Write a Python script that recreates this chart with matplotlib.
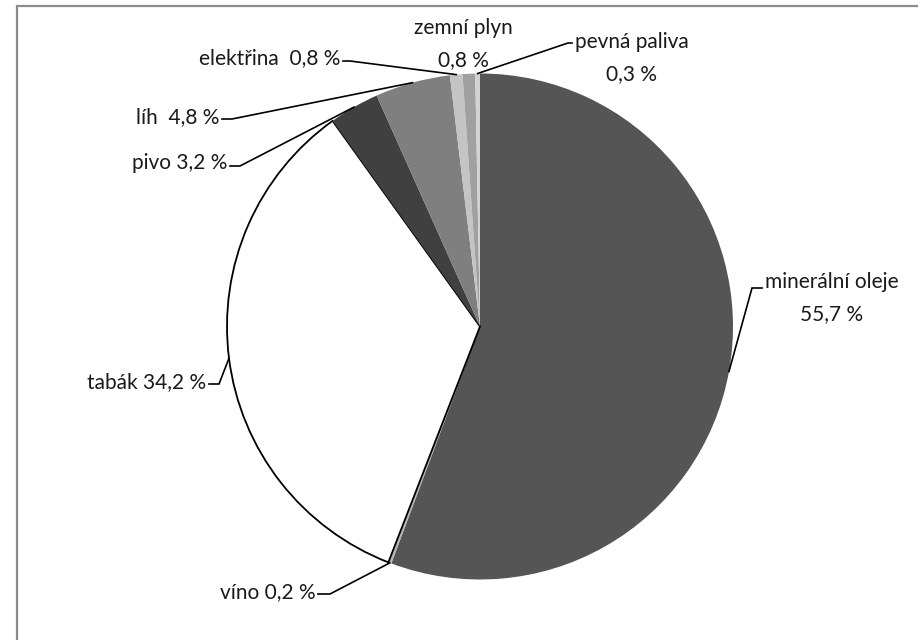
import numpy as np
import matplotlib
matplotlib.use('Agg')
import matplotlib.pyplot as plt
from matplotlib.patches import Rectangle

plt.rcParams['font.family'] = ['Lato', 'DejaVu Sans']

# data
categories = ['minerální oleje', 'víno', 'tabák', 'pivo', 'líh',
              'elektřina', 'zemní plyn', 'pevná paliva']
shares = [55.7, 0.2, 34.2, 3.2, 4.8, 0.8, 0.8, 0.3]
colors = ['#555555', '#b4b4b4', '#ffffff', '#404040', '#7f7f7f',
          '#c4c4c4', '#a0a0a0', '#d2d2d2']
# how category and value are joined in each label
label_fmt = ['{}\n{}', '{} {}', '{} {}', '{} {}', '{}  {}',
             '{}  {}', '{}\n{}', '{}\n{}']

W, H = 918, 640
def py(y):
    # pixel row (from top) -> data y
    return H - y

# label layout in pixels: (elbow x, elbow y, end x, text x, text y, ha)
layout = [
    (752, 288, 762, 765, 298, 'left'),
    (330, 594, 318, 316, 592, 'right'),
    (219, 384, 209, 206, 382, 'right'),
    (240, 166, 230, 227, 163, 'right'),
    (232, 119, 222, 219, 117, 'right'),
    (350, 61, 343, 340, 58, 'right'),
    None,
    (568, 43, 572, 575, 58, 'left'),
]
zemni_pos = (463, 44)

fig = plt.figure(figsize=(W / 100, H / 100), dpi=100)
ax = fig.add_axes([0, 0, 1, 1])

cx, cy, r = 480, py(326.5), 253
wedges, _ = ax.pie(shares, colors=colors, startangle=90, counterclock=False,
                   center=(cx, cy), radius=r, frame=True,
                   wedgeprops=dict(linewidth=0))
wedges[2].set_edgecolor('black')
wedges[2].set_linewidth(1.3)

ax.set_xlim(0, W)
ax.set_ylim(0, H)
ax.axis('off')

txt_kw = dict(fontsize=15, color='#1a1a1a', va='center', linespacing=1.78,
              multialignment='center')

for i, w in enumerate(wedges):
    val = ('%.1f' % shares[i]).replace('.', ',') + ' %'
    label = label_fmt[i].format(categories[i], val)
    if layout[i] is None:
        ax.text(zemni_pos[0], py(zemni_pos[1]), label, ha='center', **txt_kw)
        continue
    ex, ey, endx, tx, ty, ha = layout[i]
    ang = np.deg2rad((w.theta1 + w.theta2) / 2)
    px = cx + r * np.cos(ang)
    pyy = cy + r * np.sin(ang)
    ax.plot([px, ex, endx], [pyy, py(ey), py(ey)], color='black', lw=1.2,
            solid_joinstyle='miter')
    ax.text(tx, py(ty), label, ha=ha, **txt_kw)

# chart frame (runs off the right and bottom edge)
ax.add_patch(Rectangle((17, py(660)), 930, 654, fill=False,
                       edgecolor='#8c8c8c', lw=1.6))

fig.savefig('out.png', dpi=100)
